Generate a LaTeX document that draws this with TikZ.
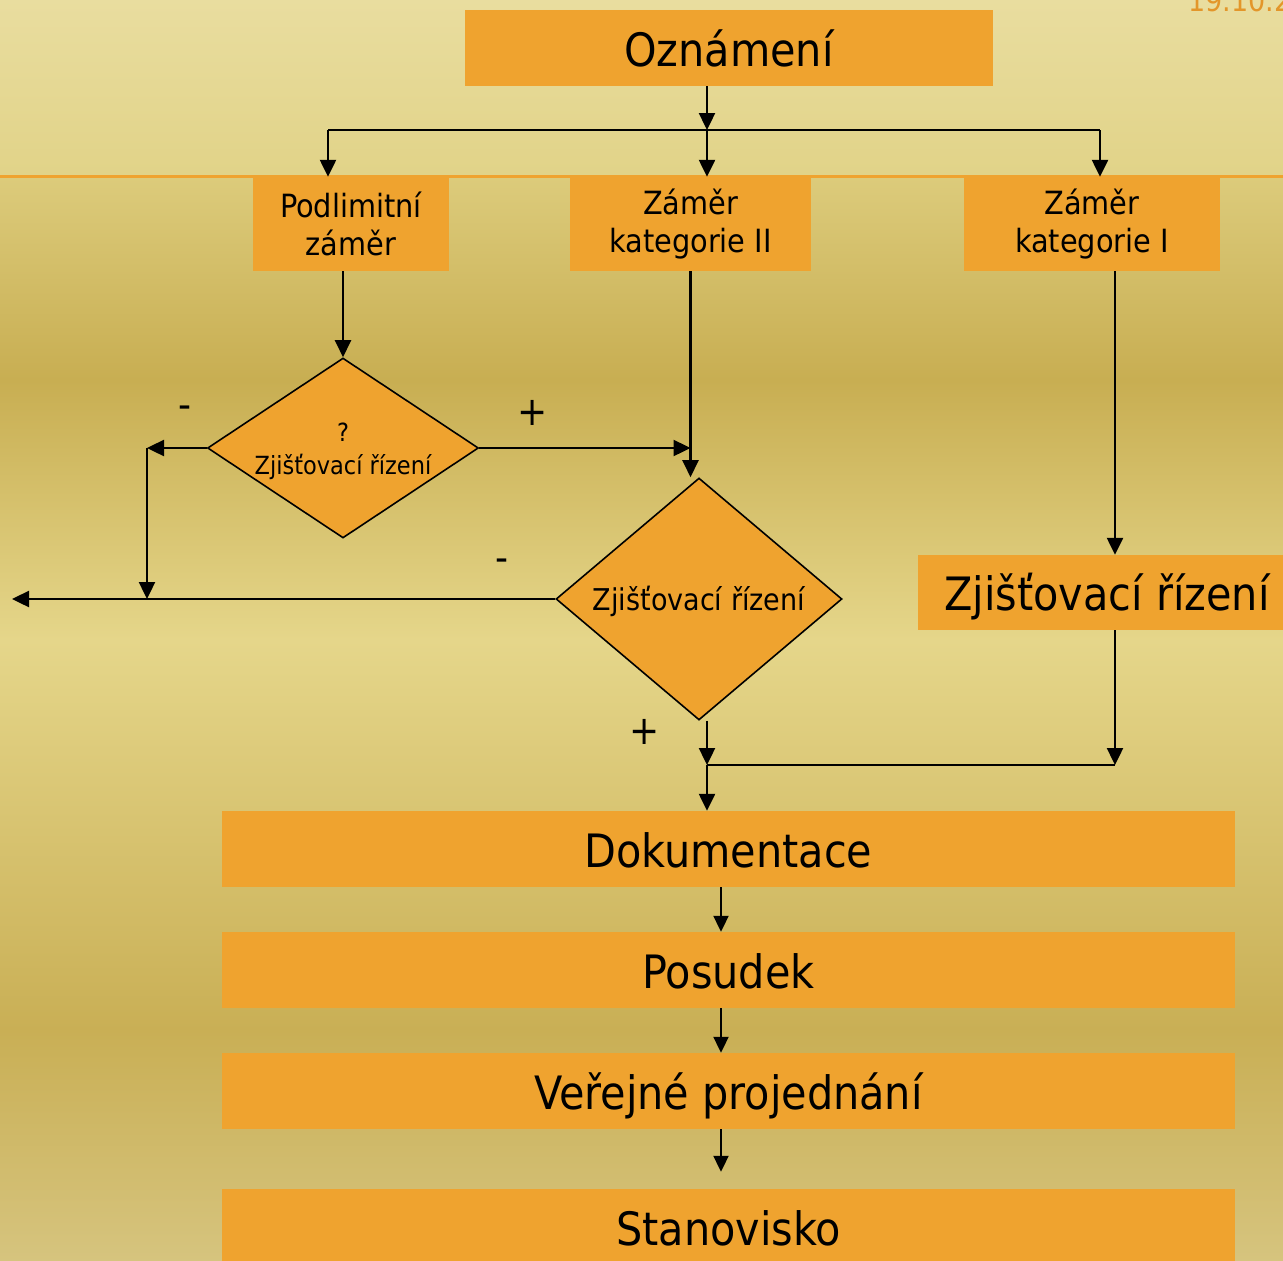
\documentclass[tikz,border=0pt]{standalone}
\usepackage{fontspec}
\setmainfont{DejaVu Sans Condensed}
\usetikzlibrary{
  calc,positioning,
  arrows,arrows.meta,
  shapes.geometric
}

\definecolor{boxorange}{HTML}{EFA32F}
\definecolor{datecol}{HTML}{E3962A}
\definecolor{hdtop}{HTML}{E9DD9F}
\definecolor{hdbot}{HTML}{E1D388}
\definecolor{bgtop}{HTML}{DCCB7B}
\definecolor{bgdarka}{HTML}{C8AE52}
\definecolor{bglight}{HTML}{E5D68A}
\definecolor{bgdarkb}{HTML}{C9AF55}
\definecolor{bgbot}{HTML}{D6C47E}

\pgfdeclareverticalshading{bgshade}{100bp}{%
  color(0bp)=(bgbot); color(25bp)=(bgbot);
  color(35.65bp)=(bgdarkb); color(53.64bp)=(bglight);
  color(65.64bp)=(bgdarka); color(75bp)=(bgtop); color(100bp)=(bgtop)}

\tikzset{
  box/.style={fill=boxorange,inner sep=0pt,align=center},
  bigbox/.style={box,font=\fontsize{46}{52}\selectfont,minimum height=76pt,
    text height=40pt,text depth=4pt},
  catbox/.style={box,font=\fontsize{32}{38}\selectfont,minimum height=94pt},
  decision/.style={diamond,draw=black,line width=1.6pt,fill=boxorange,inner sep=0pt},
  arr/.style={line width=2.4pt,-{Triangle[length=17pt,width=16pt]}},
  thinarr/.style={line width=2pt,-{Triangle[length=16pt,width=15pt]}},
  link/.style={line width=2.4pt},
  sign/.style={font=\fontsize{40}{48}\selectfont,inner sep=0pt}
}

\begin{document}
\begin{tikzpicture}[x=1pt,y=-1pt]
\useasboundingbox (0,0) rectangle (1283,1261);

% background
\fill[top color=hdtop,bottom color=hdbot] (0,0) rectangle (1283,175);
\fill[shading=bgshade] (0,177) rectangle (1283,1261);
\fill[boxorange] (0,174.5) rectangle (1283,177.5);
\node[anchor=base west,text=datecol,font=\fontsize{30}{36}\selectfont,inner sep=0pt] (datum) at (1188,11) {19.10.2};

% boxes
\node[bigbox,minimum width=528pt] (ozn) at (729,48) {Oznámení};
\node[catbox,minimum width=196pt] (podl) at (351,224) {Podlimitní\\záměr};
\node[catbox,minimum width=241pt] (kat2) at (690.5,224) {Záměr\\kategorie II};
\node[catbox,minimum width=256pt] (kat1) at (1092,224) {Záměr\\kategorie I};
\node[decision,minimum width=271pt,minimum height=180pt] (dia1) at (343,448) {};
\node[align=center,font=\fontsize{25}{33}\selectfont,inner sep=0pt] (dia1txt) at (343,451) {?\\Zjišťovací řízení};
\node[decision,minimum width=286pt,minimum height=242pt] (dia2) at (699,599) {};
\node[font=\fontsize{30}{36}\selectfont,inner sep=0pt] (dia2txt) at (699,601) {Zjišťovací řízení};
\node[bigbox,minimum width=378pt,minimum height=75pt] (zj) at (1107,592.5) {Zjišťovací řízení};
\node[bigbox,minimum width=1013pt] (dok) at (728.5,849) {Dokumentace};
\node[bigbox,minimum width=1013pt] (pos) at (728.5,970) {Posudek};
\node[bigbox,minimum width=1013pt] (ver) at (728.5,1091) {Veřejné projednání};
\node[bigbox,minimum width=1013pt] (sta) at (728.5,1227) {Stanovisko};

% signs
\node[sign] (m1) at (185,412) {-};
\node[sign] (p1) at (533,413) {+};
\node[sign] (m2) at (502,565) {-};
\node[sign] (p2) at (645,732) {+};

% junctions
\coordinate (split) at (707,130);
\coordinate (sl) at (328,130);
\coordinate (sr) at (1100,130);
\coordinate (lm) at (147,448);
\coordinate (lj) at (147,599);
\coordinate (out) at (12,599);
\coordinate (mj) at (707,765);
\coordinate (rj) at (1115,765);
\coordinate (st) at (721,0);

% connectors
\draw[arr] (ozn.south -| split) -- (split);
\draw[link] (sl) -- (sr);
\draw[arr] (sl) -- (sl |- podl.north);
\draw[arr] (split) -- (split |- kat2.north);
\draw[arr] (sr) -- (sr |- kat1.north);
\draw[arr] (podl.south -| dia1.north) -- (dia1.north);
\draw[arr] (dia1.west) -- (lm);
\draw[arr] (lm) -- (lj);
\draw[arr] (dia1.east) -- (kat2.south |- dia1.east);
\draw[arr] (kat2.south) -- (kat2.south |- dia2.north);
\draw[arr] (dia2.west) -- (out);
\draw[arr] (mj |- dia2.south) -- (mj);
\draw[arr] (rj |- kat1.south) -- (rj |- zj.north);
\draw[arr] (rj |- zj.south) -- (rj);
\draw[link] (mj) -- (rj);
\draw[arr] (mj) -- (mj |- dok.north);
\draw[thinarr] (st |- dok.south) -- (st |- pos.north);
\draw[thinarr] (st |- pos.south) -- (st |- ver.north);
\draw[thinarr,shorten >=17pt] (st |- ver.south) -- (st |- sta.north);
\end{tikzpicture}
\end{document}
